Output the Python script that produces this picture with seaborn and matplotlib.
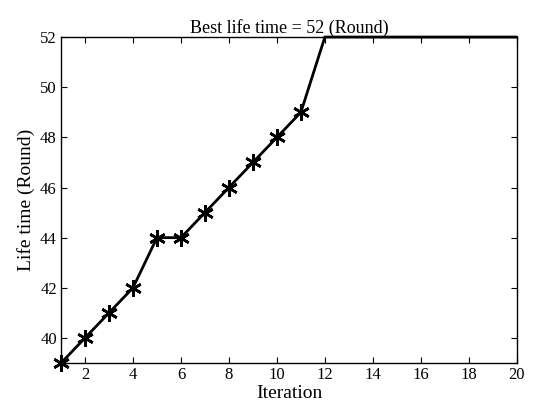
import matplotlib
matplotlib.use("Agg")
import matplotlib.pyplot as plt
import seaborn as sns
import pandas as pd

iterations = list(range(1, 21))
life_time = [39, 40, 41, 42, 44, 44, 45, 46, 47, 48, 49, 52, 52, 52, 52, 52, 52, 52, 52, 52]
x_ticks = [2, 4, 6, 8, 10, 12, 14, 16, 18, 20]
y_ticks = [40, 42, 44, 46, 48, 50, 52]

sns.set_theme(style="white")
plt.rcParams['font.family'] = ['Liberation Serif', 'DejaVu Serif']

df = pd.DataFrame({"Iteration": iterations, "Life": life_time})

fig = plt.figure(figsize=(5.35, 4.07), dpi=100)
ax = fig.add_axes([0.114, 0.108, 0.852, 0.801])
sns.lineplot(data=df, x="Iteration", y="Life", ax=ax, color="black", linewidth=2,
             marker=(6, 2, 0), markersize=12, markeredgewidth=1.9, markeredgecolor="black",
             markevery=list(range(11)), clip_on=False, zorder=5)
ax.set_xlim(1, 20)
ax.set_ylim(39, 52)
ax.set_xticks(x_ticks)
ax.set_yticks(y_ticks)
ax.tick_params(direction="in", length=4, width=0.8, labelsize=12, top=True, right=True,
               bottom=True, left=True, colors="black", pad=3)
for lab in ax.get_xticklabels() + ax.get_yticklabels():
    lab.set_color("black")
for s in ax.spines.values():
    s.set_color("black")
    s.set_linewidth(1.0)
ax.set_xlabel("Iteration", fontsize=14, labelpad=1, color="black")
ax.set_ylabel("Life time (Round)", fontsize=14, labelpad=4, color="black")
ax.set_title("Best life time = 52 (Round)", fontsize=13, pad=3, color="black")
fig.savefig("out.png", dpi=100)
